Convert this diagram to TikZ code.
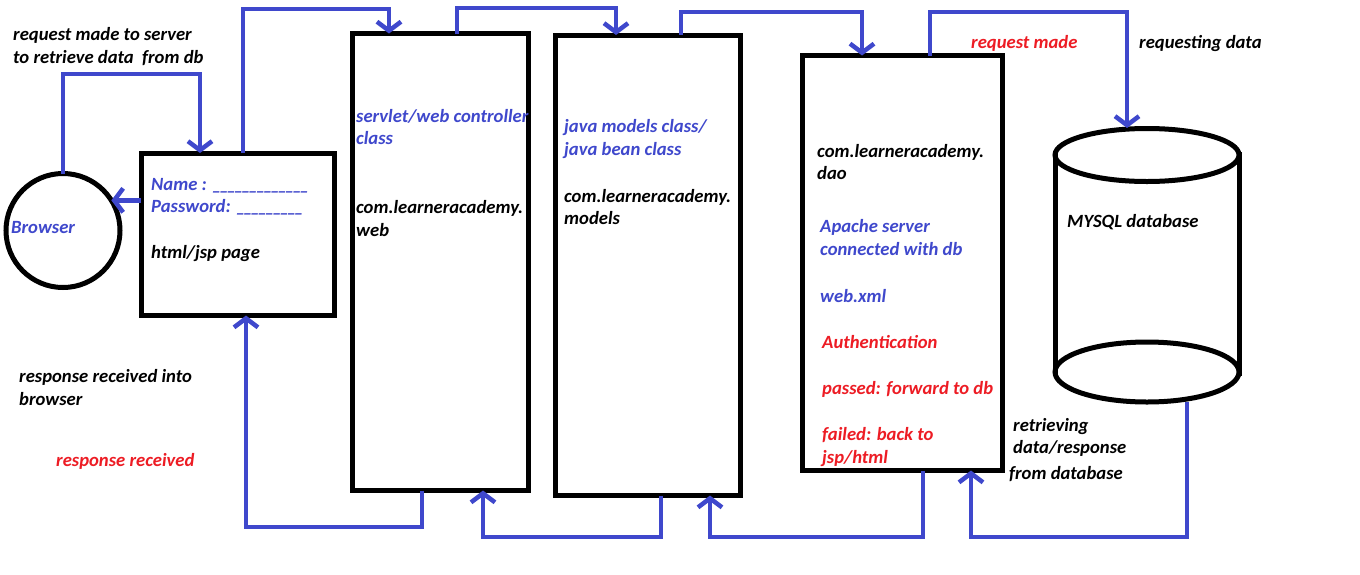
\documentclass[tikz,border=0pt]{standalone}
\usepackage{fontspec}
\setmainfont{Carlito}
\usetikzlibrary{arrows.meta,calc}
\definecolor{pblue}{RGB}{63,72,204}
\definecolor{pred}{RGB}{237,28,36}
\newcommand{\usc}{\_\kern-2pt}
\begin{document}
\begin{tikzpicture}[x=1pt,y=-1pt,
  font=\bfseries\itshape\fontsize{18.67}{23}\selectfont,
  blk/.style={draw=black, line width=5pt, inner sep=0pt, outer sep=0pt, anchor=north west, fill=none},
  conn/.style={draw=pblue, line width=4.5pt, line join=miter,
    -{Straight Barb[length=9pt,width=24pt]}},
  txt/.style={anchor=base west, inner sep=0pt, text=black},
  btxt/.style={txt, text=pblue},
  rtxt/.style={txt, text=pred}]
\useasboundingbox (0,0) rectangle (1360,574);
\fill[white] (0,0) rectangle (1360,574);

% shapes
\node[draw=black, line width=5pt, circle, minimum size=114pt, inner sep=0pt, outer sep=0pt] (browser) at (63,230.5) {};
\node[blk, minimum width=193pt, minimum height=162.5pt] (html) at (141,153) {};
\node[blk, minimum width=176pt, minimum height=457pt] (servlet) at (352,33.5) {};
\node[blk, minimum width=185pt, minimum height=460.5pt] (models) at (555,35) {};
\node[blk, minimum width=199.5pt, minimum height=415pt] (dao) at (802.5,55.5) {};
\node[inner sep=0pt, outer sep=0pt, anchor=north west, minimum width=184pt, minimum height=274pt] (db) at (1055,128) {};
\draw[line width=5pt] (1147,155) ellipse [x radius=92pt, y radius=26.5pt];
\draw[line width=5pt] (1147,372) ellipse [x radius=92pt, y radius=30pt];
\draw[line width=5pt] (1055,152) -- (1055,376);
\draw[line width=5pt] (1239,152) -- (1239,376);

% bend points
\coordinate (k1) at (200,74);
\coordinate (k3a) at (243,9);   \coordinate (k3b) at (389,9);
\coordinate (k4a) at (457,8);   \coordinate (k4b) at (616,8);
\coordinate (k5a) at (681,12);  \coordinate (k5b) at (862,12);
\coordinate (k6a) at (930,12);  \coordinate (k6b) at (1127,12);
\coordinate (k7a) at (1187,537); \coordinate (k7b) at (971,537);
\coordinate (k8a) at (923,537); \coordinate (k8b) at (710,537);
\coordinate (k9a) at (661,537); \coordinate (k9b) at (483,537);
\coordinate (k10a) at (422,527); \coordinate (k10b) at (246,527);

% connectors
\draw[conn] (browser.north) |- (k1) -- (k1 |- html.north);
\draw[conn] (html.west |- browser.32) -- (browser.32);
\draw[conn] (html.north -| k3a) -- (k3a) -- (k3b) -- (k3b |- servlet.north);
\draw[conn] (servlet.north -| k4a) -- (k4a) -- (k4b) -- (k4b |- models.north);
\draw[conn] (models.north -| k5a) -- (k5a) -- (k5b) -- (k5b |- dao.north);
\draw[conn] (dao.north -| k6a) -- (k6a) -- (k6b) -- (k6b |- db.north);
\draw[conn] (db.south -| k7a) -- (k7a) -- (k7b) -- (k7b |- dao.south);
\draw[conn] (dao.south -| k8a) -- (k8a) -- (k8b) -- (k8b |- models.south);
\draw[conn] (models.south -| k9a) -- (k9a) -- (k9b) -- (k9b |- servlet.south);
\draw[conn] (servlet.south -| k10a) -- (k10a) -- (k10b) -- (k10b |- html.south);

% texts
\node[txt] (t1) at (13,40) {request made to server};
\node[txt] (t2) at (13,63) {to retrieve data\ \ from db};
\node[btxt] (tb) at (11,233) {Browser};
\node[btxt] (tn) at (151,190) {Name : \usc\usc\usc\usc\usc\usc\usc\usc\usc\usc\usc\usc\_};
\node[btxt] (tp) at (151,212) {Password: \usc\usc\usc\usc\usc\usc\usc\usc\_};
\node[txt] (th) at (151,258) {html/jsp page};
\node[btxt] (ts1) at (356,122) {servlet/web controller};
\node[btxt] (ts2) at (356,144) {class};
\node[txt] (tw1) at (356,213) {com.learneracademy.};
\node[txt] (tw2) at (356,236) {web};
\node[btxt] (tj1) at (564,132) {java models class/};
\node[btxt] (tj2) at (564,155) {java bean class};
\node[txt] (tm1) at (564,202) {com.learneracademy.};
\node[txt] (tm2) at (564,224) {models};
\node[rtxt] (trm) at (971,48) {request made};
\node[txt] (trd) at (1139,48) {requesting data};
\node[txt] (td1) at (817,157) {com.learneracademy.};
\node[txt] (td2) at (817,179) {dao};
\node[btxt] (ta1) at (820,232) {Apache server};
\node[btxt] (ta2) at (820,255) {connected with db};
\node[btxt] (tx) at (820,302) {web.xml};
\node[rtxt] (tau) at (822,348) {Authentication};
\node[rtxt] (tpa) at (822,394) {passed: forward to db};
\node[rtxt] (tf1) at (822,440) {failed: back to};
\node[rtxt] (tf2) at (822,463) {jsp/html};
\node[txt] (tdb) at (1067,227) {MYSQL database};
\node[txt] (tr1) at (1013,431) {retrieving};
\node[txt] (tr2) at (1013,453) {data/response};
\node[txt] (tr3) at (1009,479) {from database};
\node[txt] (tri1) at (19,382) {response received into};
\node[txt] (tri2) at (19,405) {browser};
\node[rtxt] (trr) at (56,466) {response received};
\end{tikzpicture}
\end{document}
